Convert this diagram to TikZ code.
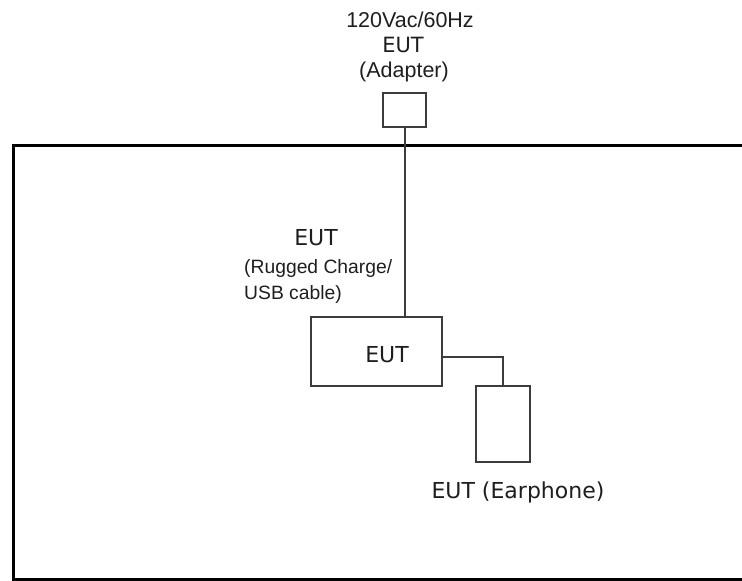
\documentclass[tikz,border=0pt]{standalone}
\usepackage{fontspec}
\setmainfont{Liberation Sans}
\newfontfamily\eutfont{DejaVu Sans}
\begin{document}
\begin{tikzpicture}[x=1pt,y=-1pt,
  box/.style={draw=linegray, line width=2pt, minimum width=#1, inner sep=0pt},
  wire/.style={draw=linegray, line width=2pt},
  outer/.style={draw=black, line width=3pt},
  arialtxt/.style={anchor=base, inner sep=0pt, text=txtcol, font=\fontsize{21.5}{25}\selectfont},
  smalltxt/.style={anchor=base west, inner sep=0pt, text=txtcol, font=\fontsize{19.3}{23}\selectfont},
  euttxt/.style={anchor=base, inner sep=0pt, text=txtcol, font=\eutfont\fontsize{22}{26}\selectfont}]
\definecolor{linegray}{HTML}{3C3C3C}
\definecolor{txtcol}{HTML}{1E1E1E}
\useasboundingbox (0,0) rectangle (742,581);
\clip (0,0) rectangle (742,581);
% outer frame
\coordinate (ftr) at (760,145);
\coordinate (ftl) at (13,145);
\coordinate (fbl) at (13,579);
\coordinate (fbr) at (760,579);
\draw[outer] (ftr) -- (ftl) -- (fbl) -- (fbr);
% boxes
\node[box=43pt, minimum height=34pt] (adapter) at (404.5,110) {};
\node[box=131pt, minimum height=69pt] (main) at (376.5,351.5) {};
\node[box=54pt, minimum height=76pt] (ear) at (503,424) {};
% connectors
\draw[wire] (adapter.south) -- (adapter.south |- main.north);
\draw[wire] ([yshift=-5.5pt]main.east) -| (ear.north);
% texts
\node[arialtxt] (t1) at (410,27) {120Vac/60Hz};
\node[euttxt, font=\eutfont\fontsize{21}{25}\selectfont] (t2) at (403,52) {EUT};
\node[arialtxt] (t3) at (404,77) {(Adapter)};
\node[euttxt] (m1) at (316,245) {EUT};
\node[smalltxt] (m2) at (244,273) {(Rugged Charge/};
\node[smalltxt] (m3) at (244,299) {USB cable)};
\node[euttxt] (b1) at (387,362) {EUT};
\node[euttxt] (e1) at (518,498) {EUT (Earphone)};
\end{tikzpicture}
\end{document}
